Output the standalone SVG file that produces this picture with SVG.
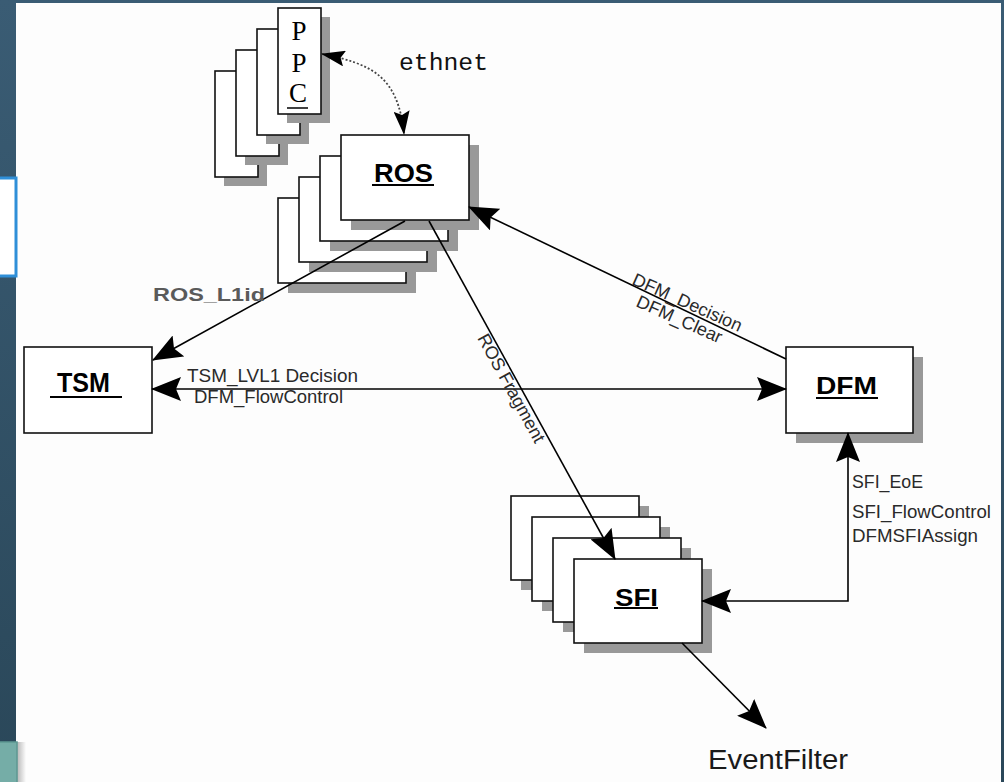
<svg xmlns="http://www.w3.org/2000/svg" width="1004" height="782" viewBox="0 0 1004 782">
  <defs>
    <linearGradient id="frame" x1="0" y1="0" x2="0" y2="1">
      <stop offset="0" stop-color="#3a5c74"/>
      <stop offset="1" stop-color="#2a4759"/>
    </linearGradient>
    <linearGradient id="tabShade" x1="0" y1="0" x2="1" y2="0">
      <stop offset="0" stop-color="#000" stop-opacity="0.28"/>
      <stop offset="1" stop-color="#000" stop-opacity="0"/>
    </linearGradient>
    <marker id="ah" viewBox="0 0 30 24" refX="29" refY="12" markerWidth="30" markerHeight="24" markerUnits="userSpaceOnUse" orient="auto-start-reverse">
      <path d="M0,0 L30,12 L0,24 L5,12 Z" fill="#000"/>
    </marker>
    <marker id="ahs" viewBox="0 0 24 16" refX="23" refY="8" markerWidth="24" markerHeight="16" markerUnits="userSpaceOnUse" orient="auto-start-reverse">
      <path d="M0,0 L24,8 L0,16 L4,8 Z" fill="#000"/>
    </marker>
    <style>
      .box { fill: #fff; stroke: #111; stroke-width: 1.6; }
      .shadow { fill: #999; }
      .title { font-family: "Liberation Sans", Arial, sans-serif; font-weight: bold; fill: #000; text-anchor: middle; }
      .uline { stroke: #000; stroke-width: 2; }
      .lbl { font-family: "Liberation Sans", Arial, sans-serif; font-size: 18px; fill: #2a2a2a; }
      .wire { fill: none; stroke: #000; stroke-width: 1.6; }
    </style>
  </defs>

  <!-- slide frame -->
  <rect x="0" y="0" width="1004" height="782" fill="url(#frame)"/>
  <rect x="16" y="3" width="985" height="779" fill="#fdfdfd"/>
  <rect x="-5" y="178" width="21" height="98" fill="#fff" stroke="#2f8fd8" stroke-width="3"/>
  <rect x="17" y="742" width="9" height="40" fill="url(#tabShade)"/>
  <rect x="-2" y="742" width="19" height="42" fill="#75ada7" stroke="#5e9892" stroke-width="1.5"/>

  <!-- PPC stack -->
  <g id="ppc">
    <rect class="shadow" x="224" y="80" width="43" height="106"/>
    <rect class="box" x="215" y="71" width="43" height="106"/>
    <rect class="shadow" x="245" y="59" width="43" height="106"/>
    <rect class="box" x="236" y="50" width="43" height="106"/>
    <rect class="shadow" x="266" y="38" width="43" height="106"/>
    <rect class="box" x="257" y="29" width="43" height="106"/>
    <rect class="shadow" x="287" y="17" width="43" height="106"/>
    <rect class="box" x="278" y="8" width="43" height="106"/>
    <g font-family="'Liberation Serif', 'Times New Roman', serif" font-size="27" text-anchor="middle" fill="#000">
      <text x="299" y="40">P</text>
      <text x="299" y="72">P</text>
      <text x="298" y="102">C</text>
    </g>
    <line x1="287" y1="108" x2="308" y2="108" stroke="#000" stroke-width="1.5"/>
  </g>

  <!-- ROS stack -->
  <g id="ros">
    <rect class="shadow" x="288" y="208" width="128" height="85"/>
    <rect class="box" x="278" y="198" width="128" height="85"/>
    <rect class="shadow" x="309" y="187" width="128" height="85"/>
    <rect class="box" x="299" y="177" width="128" height="85"/>
    <rect class="shadow" x="330" y="166" width="128" height="85"/>
    <rect class="box" x="320" y="156" width="128" height="85"/>
    <rect class="shadow" x="351" y="145" width="128" height="85"/>
    <rect class="box" x="341" y="135" width="128" height="85"/>
    <text class="title" x="403.5" y="182" font-size="26" textLength="59" lengthAdjust="spacingAndGlyphs">ROS</text>
    <line class="uline" x1="372" y1="185" x2="434" y2="185"/>
  </g>

  <!-- TSM -->
  <g id="tsm">
    <rect class="box" x="24" y="347" width="128" height="86"/>
    <text class="title" x="83.5" y="392" font-size="27" textLength="53" lengthAdjust="spacingAndGlyphs">TSM</text>
    <line class="uline" x1="50" y1="397" x2="122" y2="397"/>
  </g>

  <!-- DFM -->
  <g id="dfm">
    <rect class="shadow" x="796" y="357" width="127" height="86"/>
    <rect class="box" x="786" y="347" width="127" height="86"/>
    <text class="title" x="846.5" y="394" font-size="24" textLength="61" lengthAdjust="spacingAndGlyphs">DFM</text>
    <line class="uline" x1="816" y1="398" x2="878" y2="398"/>
  </g>

  <!-- SFI stack -->
  <g id="sfi">
    <rect class="shadow" x="521" y="506" width="128" height="84"/>
    <rect class="box" x="511" y="496" width="128" height="84"/>
    <rect class="shadow" x="542" y="527" width="128" height="84"/>
    <rect class="box" x="532" y="517" width="128" height="84"/>
    <rect class="shadow" x="563" y="548" width="128" height="84"/>
    <rect class="box" x="553" y="538" width="128" height="84"/>
    <rect class="shadow" x="584" y="569" width="128" height="84"/>
    <rect class="box" x="574" y="559" width="128" height="84"/>
    <text class="title" x="636.5" y="606" font-size="24" textLength="43" lengthAdjust="spacingAndGlyphs">SFI</text>
    <line class="uline" x1="614" y1="608" x2="658" y2="608"/>
  </g>

  <!-- EventFilter sink -->
  <g id="eventfilter">
    <text x="708" y="769" font-family="'Liberation Sans', Arial, sans-serif" font-size="27" fill="#1a1a1a" textLength="140" lengthAdjust="spacingAndGlyphs">EventFilter</text>
  </g>

  <!-- connectors -->
  <g id="connectors">
    <path d="M322,54 C372,64 398,76 404,134" fill="none" stroke="#444" stroke-width="1.8" stroke-dasharray="2 2" marker-start="url(#ahs)" marker-end="url(#ahs)"/>
    <path class="wire" d="M405,221 L153,360" marker-end="url(#ah)"/>
    <path class="wire" d="M152,389 L786,389" marker-start="url(#ah)" marker-end="url(#ah)"/>
    <path class="wire" d="M786,359 L469,207" marker-end="url(#ah)"/>
    <path class="wire" d="M429,221 L615,559" marker-end="url(#ah)"/>
    <path class="wire" d="M848,433 L848,601 L702,601" marker-start="url(#ah)" marker-end="url(#ah)"/>
    <path class="wire" d="M682,643 L766,728" marker-end="url(#ah)"/>

    <text x="399" y="70" font-family="'Liberation Mono', 'Courier New', monospace" font-size="24" fill="#111" textLength="89" lengthAdjust="spacingAndGlyphs">ethnet</text>
    <text x="153" y="301" font-family="'Liberation Sans', Arial, sans-serif" font-size="19" font-weight="bold" fill="#5a5a5a" textLength="112" lengthAdjust="spacingAndGlyphs">ROS_L1id</text>
    <text class="lbl" x="187" y="382" fill="#111" textLength="171" lengthAdjust="spacingAndGlyphs">TSM_LVL1 Decision</text>
    <text class="lbl" x="194" y="403" fill="#444" textLength="149" lengthAdjust="spacingAndGlyphs">DFM_FlowControl</text>
    <text class="lbl" transform="translate(631,284) rotate(24)">DFM_Decision</text>
    <text class="lbl" transform="translate(635,306) rotate(24)">DFM_Clear</text>
    <text class="lbl" transform="translate(477,338) rotate(61.3)">ROS Fragment</text>
    <text class="lbl" x="852" y="488" font-size="17" textLength="71" lengthAdjust="spacingAndGlyphs">SFI_EoE</text>
    <text class="lbl" x="852" y="518" font-size="17" textLength="139" lengthAdjust="spacingAndGlyphs">SFI_FlowControl</text>
    <text class="lbl" x="852" y="542" font-size="17" textLength="126" lengthAdjust="spacingAndGlyphs">DFMSFIAssign</text>
  </g>
</svg>
